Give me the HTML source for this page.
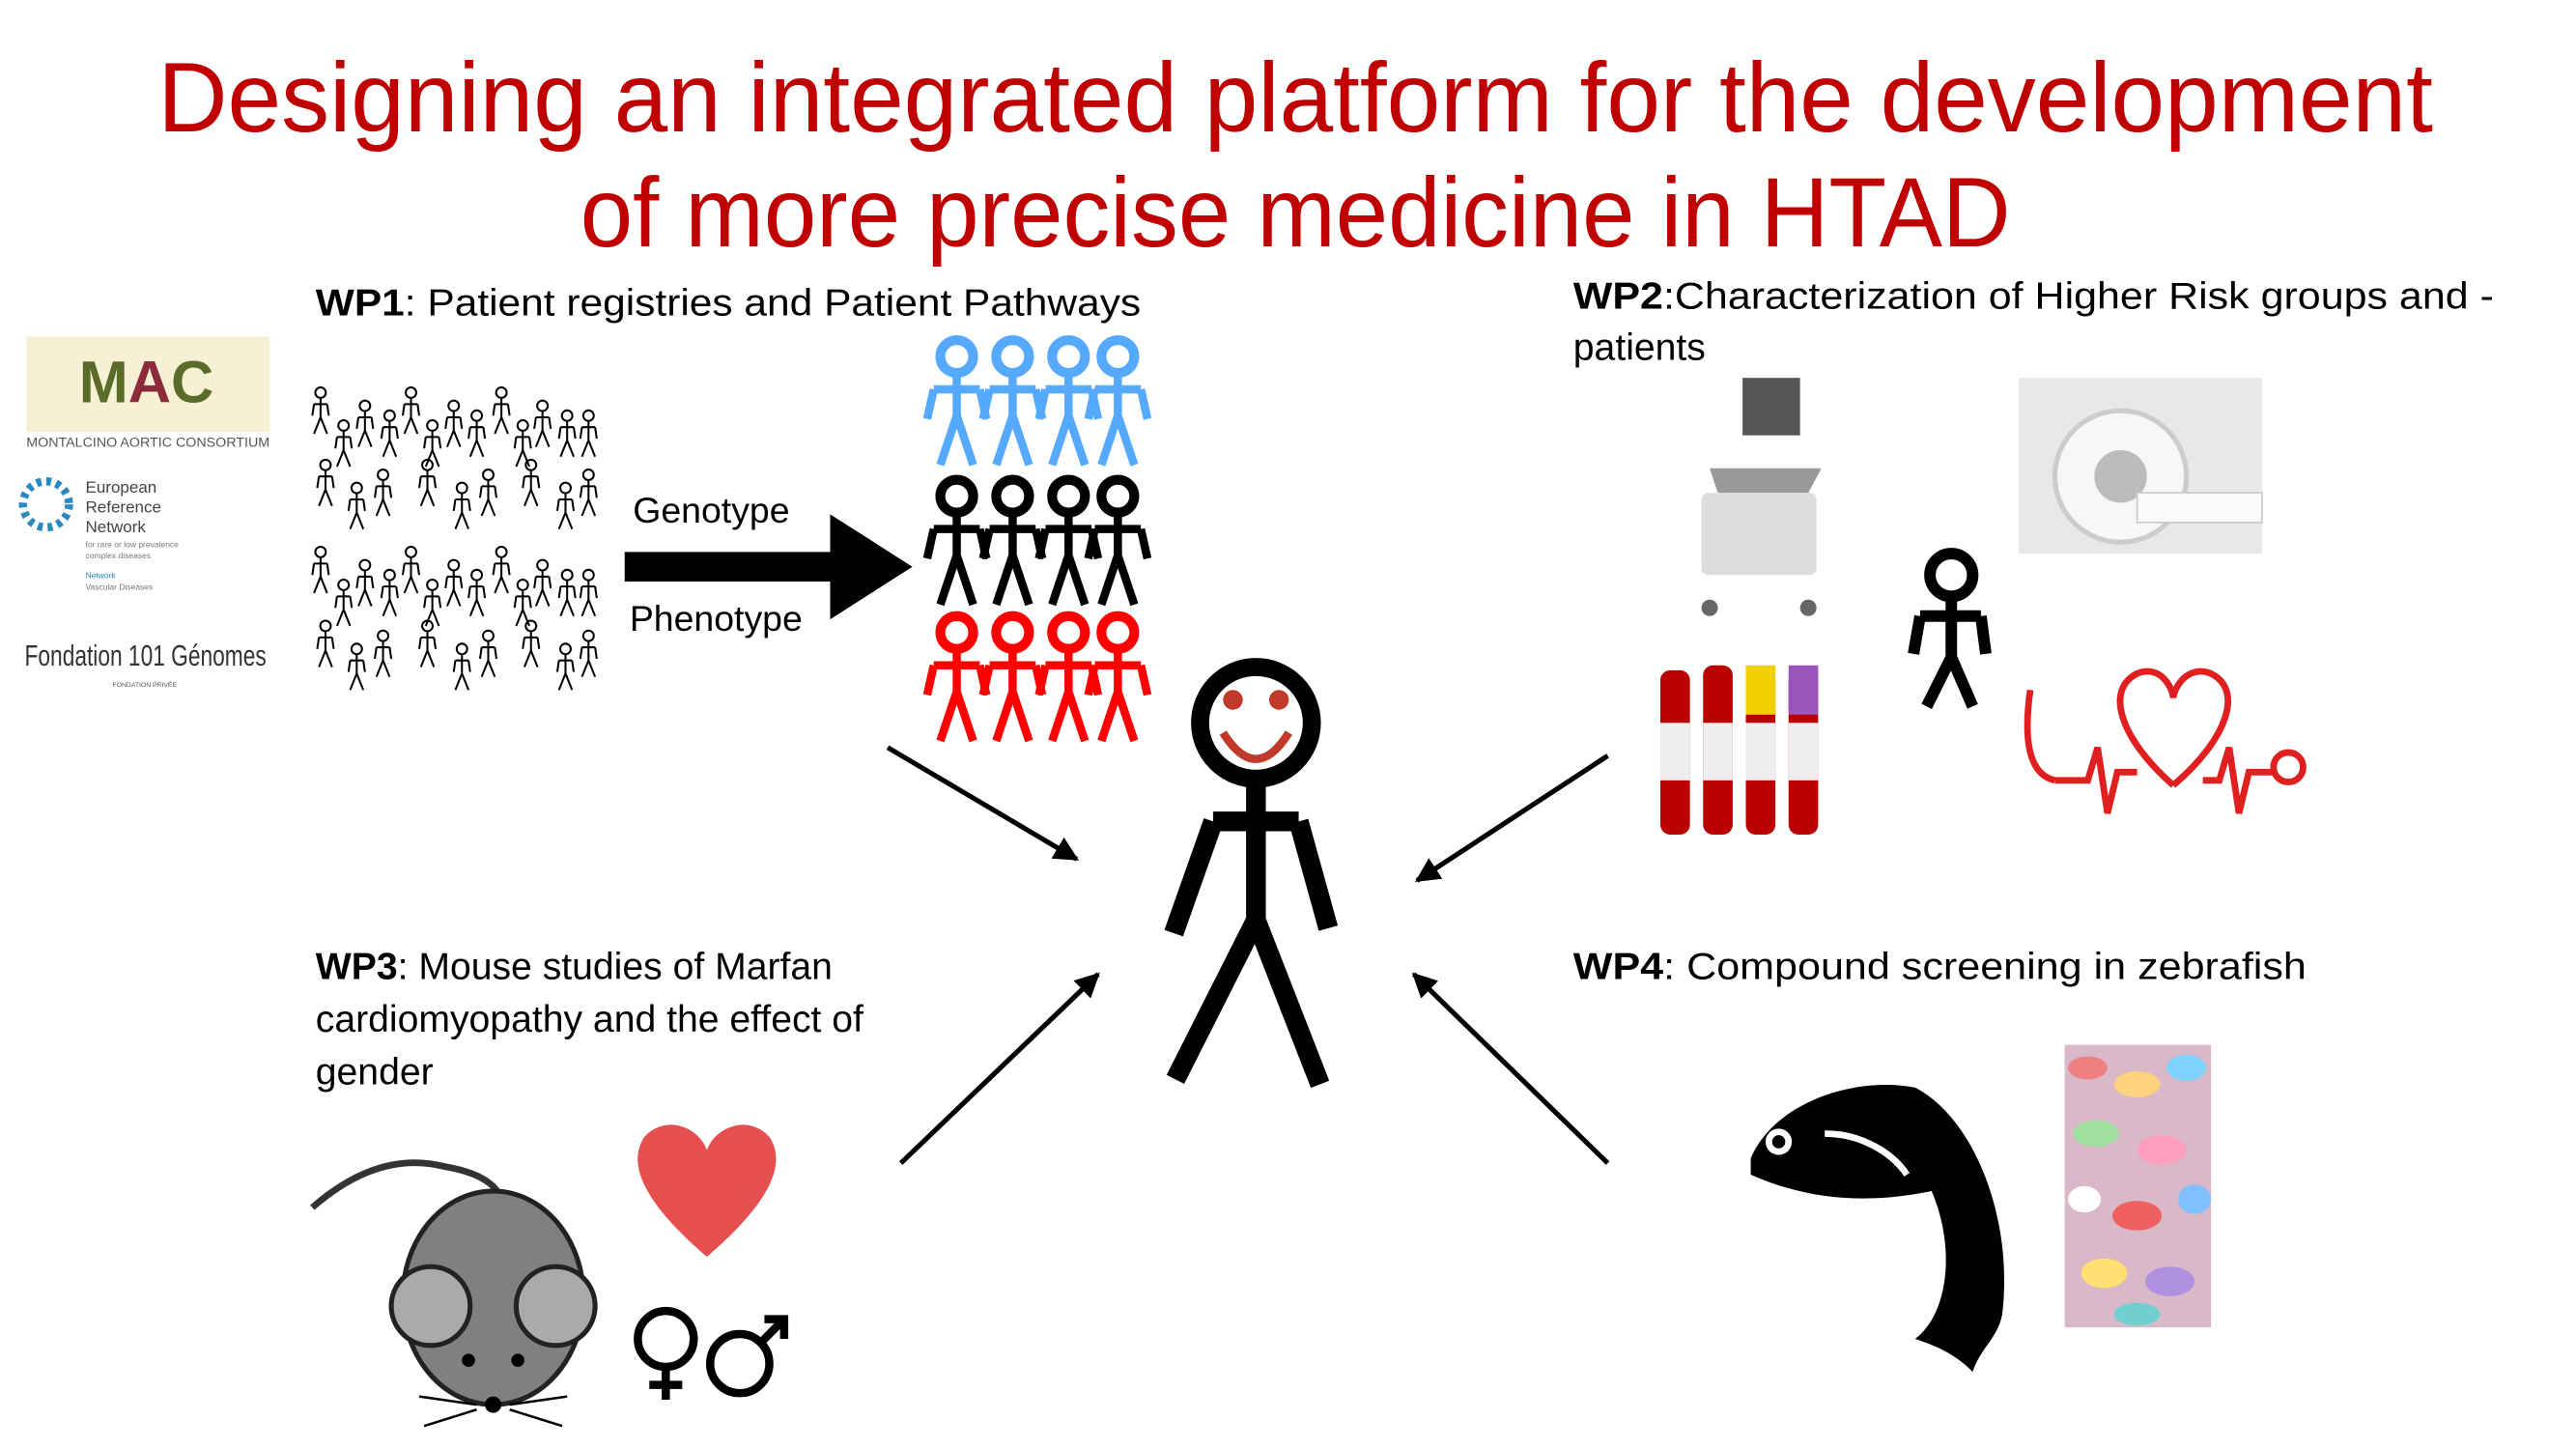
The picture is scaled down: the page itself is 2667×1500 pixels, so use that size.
<!DOCTYPE html>
<html><head><meta charset="utf-8"><style>
html,body{margin:0;padding:0;background:#fff;}
svg{display:block;}
text{font-family:"Liberation Sans",sans-serif;}
</style></head><body>
<svg width="2667" height="1500" viewBox="0 0 1567 882" preserveAspectRatio="none" xmlns="http://www.w3.org/2000/svg">
<defs>
<marker id="ah" viewBox="0 0 10 10" refX="9" refY="5" markerWidth="5" markerHeight="5" orient="auto"><path d="M0,0 L10,5 L0,10 z" fill="#000"/></marker>
<g id="sf"><circle cx="0" cy="-9" r="3.2" fill="none" stroke="#000" stroke-width="1.2"/><path d="M0,-6 V6 M-4,-2 H4 M-4,-2 L-5,5 M4,-2 L5,5 M0,6 L-4,16 M0,6 L4,16" stroke="#000" stroke-width="1.2" fill="none"/></g>
<g id="bf"><circle cx="0" cy="-28" r="10" fill="none" stroke-width="6"/><path d="M0,-18 V8 M-14,-8 H14 M-14,-8 L-18,10 M14,-8 L18,10 M0,8 L-10,38 M0,8 L10,38" stroke-width="5" fill="none"/></g>
</defs>
<text x="788" y="80" text-anchor="middle" font-size="60" fill="#C00000" textLength="1384" lengthAdjust="spacingAndGlyphs">Designing an integrated platform for the development</text>
<text x="788" y="150" text-anchor="middle" font-size="60" fill="#C00000" textLength="870" lengthAdjust="spacingAndGlyphs">of more precise medicine in HTAD</text>

<text x="192" y="192" font-size="23" textLength="502" lengthAdjust="spacingAndGlyphs"><tspan font-weight="bold">WP1</tspan>: Patient registries and Patient Pathways</text>
<text x="957" y="188" font-size="23" textLength="560" lengthAdjust="spacingAndGlyphs"><tspan font-weight="bold">WP2</tspan>:Characterization of Higher Risk groups and -</text>
<text x="957" y="219" font-size="23">patients</text>
<text x="192" y="596" font-size="23"><tspan font-weight="bold">WP3</tspan>: Mouse studies of Marfan</text>
<text x="192" y="628" font-size="23">cardiomyopathy and the effect of</text>
<text x="192" y="660" font-size="23">gender</text>
<text x="957" y="596" font-size="23" textLength="446" lengthAdjust="spacingAndGlyphs"><tspan font-weight="bold">WP4</tspan>: Compound screening in zebrafish</text>

<rect x="16" y="205" width="148" height="58" fill="#f8f0d4"/>
<text x="89" y="245" text-anchor="middle" font-size="36" font-weight="bold" fill="#5a6b2a">M<tspan fill="#8a2a3a">A</tspan>C</text>
<text x="90" y="272" text-anchor="middle" font-size="8" fill="#555" textLength="148" lengthAdjust="spacingAndGlyphs">MONTALCINO AORTIC CONSORTIUM</text>
<circle cx="28" cy="307" r="14" fill="none" stroke="#2a8ac0" stroke-width="5" stroke-dasharray="3 3"/>
<text x="52" y="300" font-size="10" fill="#444" font-family="Liberation Serif">European</text>
<text x="52" y="312" font-size="10" fill="#444" font-family="Liberation Serif">Reference</text>
<text x="52" y="324" font-size="10" fill="#444" font-family="Liberation Serif">Network</text>
<text x="52" y="333" font-size="5" fill="#777">for rare or low prevalence</text>
<text x="52" y="340" font-size="5" fill="#777">complex diseases</text>
<text x="52" y="352" font-size="5" fill="#2a8ac0">Network</text>
<text x="52" y="359" font-size="5" fill="#777">Vascular Diseases</text>
<text x="15" y="405" font-size="18" fill="#333" font-family="Liberation Serif" textLength="147" lengthAdjust="spacingAndGlyphs">Fondation 101 Génomes</text>
<text x="88" y="418" text-anchor="middle" font-size="4" fill="#555">FONDATION PRIVÉE</text>

<g>
<use href="#sf" x="195" y="248"/><use href="#sf" x="209" y="268"/><use href="#sf" x="222" y="256"/><use href="#sf" x="237" y="262"/><use href="#sf" x="250" y="248"/><use href="#sf" x="263" y="268"/><use href="#sf" x="276" y="256"/><use href="#sf" x="290" y="262"/><use href="#sf" x="305" y="248"/><use href="#sf" x="318" y="268"/><use href="#sf" x="330" y="256"/><use href="#sf" x="345" y="262"/><use href="#sf" x="358" y="262"/>
<use href="#sf" x="198" y="292"/><use href="#sf" x="217" y="306"/><use href="#sf" x="233" y="298"/><use href="#sf" x="260" y="292"/><use href="#sf" x="281" y="306"/><use href="#sf" x="297" y="298"/><use href="#sf" x="323" y="292"/><use href="#sf" x="344" y="306"/><use href="#sf" x="358" y="298"/>
<use href="#sf" x="195" y="345"/><use href="#sf" x="209" y="365"/><use href="#sf" x="222" y="353"/><use href="#sf" x="237" y="359"/><use href="#sf" x="250" y="345"/><use href="#sf" x="263" y="365"/><use href="#sf" x="276" y="353"/><use href="#sf" x="290" y="359"/><use href="#sf" x="305" y="345"/><use href="#sf" x="318" y="365"/><use href="#sf" x="330" y="353"/><use href="#sf" x="345" y="359"/><use href="#sf" x="358" y="359"/>
<use href="#sf" x="198" y="390"/><use href="#sf" x="217" y="404"/><use href="#sf" x="233" y="396"/><use href="#sf" x="260" y="390"/><use href="#sf" x="281" y="404"/><use href="#sf" x="297" y="396"/><use href="#sf" x="323" y="390"/><use href="#sf" x="344" y="404"/><use href="#sf" x="358" y="396"/>
</g>

<text x="385" y="318" font-size="22">Genotype</text>
<text x="383" y="384" font-size="22">Phenotype</text>
<path d="M380,336 H505 V313 L555,345 L505,377 V354 H380 z" fill="#000"/>

<g stroke="#55aaff"><use href="#bf" x="582" y="245"/><use href="#bf" x="616" y="245"/><use href="#bf" x="650" y="245"/><use href="#bf" x="680" y="245"/></g>
<g stroke="#000"><use href="#bf" x="582" y="330"/><use href="#bf" x="616" y="330"/><use href="#bf" x="650" y="330"/><use href="#bf" x="680" y="330"/></g>
<g stroke="#ff0000"><use href="#bf" x="582" y="413"/><use href="#bf" x="616" y="413"/><use href="#bf" x="650" y="413"/><use href="#bf" x="680" y="413"/></g>

<circle cx="764" cy="440" r="34" fill="none" stroke="#000" stroke-width="11"/>
<circle cx="750" cy="426" r="6" fill="#c0392b"/><circle cx="778" cy="426" r="6" fill="#c0392b"/>
<path d="M744,446 Q764,478 784,446" fill="none" stroke="#c0392b" stroke-width="5"/>
<path d="M764,476 V560 M738,500 H790 M738,500 L714,568 M790,500 L808,565 M764,560 L715,657 M764,560 L803,660" stroke="#000" stroke-width="12" fill="none" stroke-linejoin="round"/>

<g stroke="#000" stroke-width="3" marker-end="url(#ah)">
<line x1="540" y1="455" x2="655" y2="523"/>
<line x1="978" y1="460" x2="862" y2="536"/>
<line x1="548" y1="708" x2="668" y2="593"/>
<line x1="978" y1="708" x2="860" y2="593"/>
</g>

<rect x="1060" y="230" width="35" height="35" fill="#555"/>
<path d="M1040,285 H1108 L1100,300 H1045 z" fill="#999"/>
<rect x="1035" y="300" width="70" height="50" rx="4" fill="#ddd"/>
<circle cx="1040" cy="370" r="5" fill="#666"/><circle cx="1100" cy="370" r="5" fill="#666"/>
<rect x="1228" y="230" width="148" height="107" fill="#e8e8e8"/>
<circle cx="1290" cy="290" r="40" fill="#f7f7f7" stroke="#ccc" stroke-width="3"/>
<circle cx="1290" cy="290" r="16" fill="#bbb"/>
<rect x="1300" y="300" width="76" height="18" fill="#fafafa" stroke="#ccc"/>
<g stroke="#000" stroke-width="7" fill="none"><circle cx="1187" cy="350" r="13"/><path d="M1187,363 V400 M1168,375 H1205 M1168,375 L1164,398 M1205,375 L1208,398 M1187,400 L1172,430 M1187,400 L1200,430"/></g>
<g><rect x="1010" y="408" width="18" height="100" rx="6" fill="#b00"/><rect x="1010" y="440" width="18" height="35" fill="#eee"/>
<rect x="1062" y="408" width="18" height="100" rx="6" fill="#b00"/><rect x="1062" y="405" width="18" height="30" fill="#f0d000"/><rect x="1062" y="440" width="18" height="35" fill="#eee"/>
<rect x="1088" y="408" width="18" height="100" rx="6" fill="#b00"/><rect x="1088" y="405" width="18" height="30" fill="#9955bb"/><rect x="1088" y="440" width="18" height="35" fill="#eee"/>
<rect x="1036" y="405" width="18" height="103" rx="6" fill="#b00"/><rect x="1036" y="440" width="18" height="35" fill="#eee"/></g>
<g fill="none" stroke="#e02020" stroke-width="4">
<path d="M1322,478 C1290,450 1280,420 1300,410 C1315,404 1322,420 1322,425 C1322,420 1330,404 1345,410 C1365,420 1355,450 1322,478"/>
<path d="M1250,475 H1270 L1276,455 L1282,495 L1288,470 H1300 M1340,475 H1350 L1356,455 L1362,495 L1368,470 H1385"/>
<path d="M1235,420 Q1228,470 1250,475"/><circle cx="1392" cy="467" r="9"/></g>

<path d="M190,735 Q230,700 270,710 Q300,715 305,730" fill="none" stroke="#333" stroke-width="4"/>
<ellipse cx="300" cy="790" rx="55" ry="65" fill="#808080" stroke="#222" stroke-width="3"/>
<circle cx="262" cy="795" r="24" fill="#aaa" stroke="#222" stroke-width="3"/>
<circle cx="338" cy="795" r="24" fill="#aaa" stroke="#222" stroke-width="3"/>
<circle cx="285" cy="828" r="4" fill="#000"/><circle cx="315" cy="828" r="4" fill="#000"/>
<circle cx="300" cy="855" r="5" fill="#000"/>
<path d="M290,855 L255,850 M290,858 L258,868 M310,855 L345,850 M310,858 L342,868" stroke="#000" stroke-width="1.5"/>
<path d="M430,765 C395,735 380,710 392,692 C405,678 425,686 430,700 C435,686 455,678 468,692 C480,710 465,735 430,765 z" fill="#e03030" opacity="0.85"/>
<g fill="none" stroke="#000" stroke-width="5"><circle cx="405" cy="815" r="17"/><path d="M405,832 V852 M395,843 H415"/><circle cx="450" cy="830" r="18"/><path d="M463,817 L477,803 M465,803 H477 V815"/></g>

<path d="M1065,705 C1080,670 1130,655 1165,662 C1200,680 1225,740 1218,800 C1215,815 1205,820 1200,835 C1190,825 1180,820 1165,815 C1185,800 1190,760 1175,725 C1150,730 1110,735 1065,715 z" fill="#000"/>
<circle cx="1082" cy="695" r="8" fill="#fff"/><circle cx="1082" cy="695" r="4" fill="#000"/>
<path d="M1110,690 C1130,690 1150,700 1160,715" stroke="#fff" stroke-width="4" fill="none"/>
<rect x="1256" y="636" width="89" height="172" fill="#d9b8c8"/>
<g>
<ellipse cx="1270" cy="650" rx="12" ry="7" fill="#f08080"/><ellipse cx="1300" cy="660" rx="14" ry="8" fill="#ffd27f"/><ellipse cx="1330" cy="650" rx="12" ry="8" fill="#7fd1ff"/>
<ellipse cx="1275" cy="690" rx="14" ry="8" fill="#a0e0a0"/><ellipse cx="1315" cy="700" rx="15" ry="9" fill="#ff9fc0"/><ellipse cx="1268" cy="730" rx="10" ry="8" fill="#fff"/>
<ellipse cx="1300" cy="740" rx="15" ry="9" fill="#f06060"/><ellipse cx="1335" cy="730" rx="10" ry="9" fill="#80c0ff"/><ellipse cx="1280" cy="775" rx="14" ry="9" fill="#ffe070"/>
<ellipse cx="1320" cy="780" rx="15" ry="9" fill="#b090e0"/><ellipse cx="1300" cy="800" rx="14" ry="7" fill="#70d0d0"/>
</g>
</svg>
</body></html>
